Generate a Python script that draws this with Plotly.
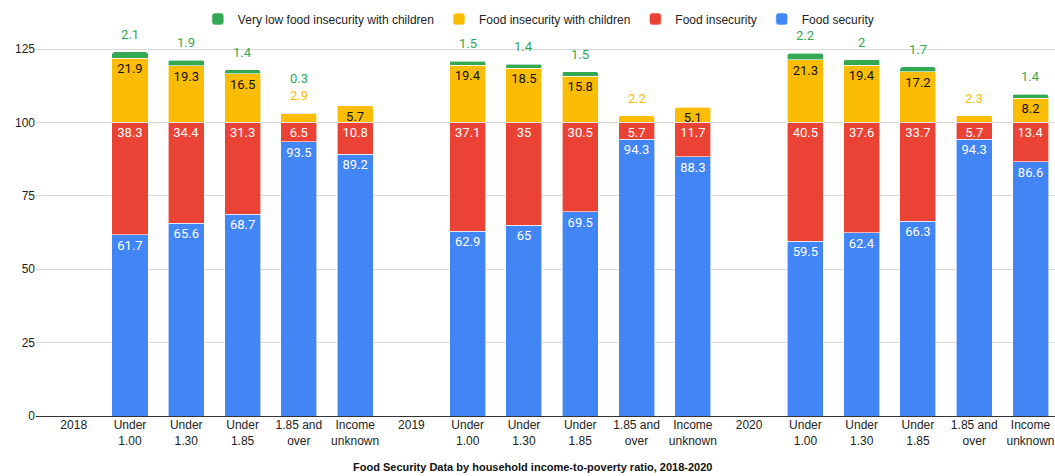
import plotly.graph_objects as go

# Category axis: a year marker followed by the five income-to-poverty groups
tick_labels = [
    "2018", "Under<br>1.00", "Under<br>1.30", "Under<br>1.85", "1.85 and<br>over", "Income<br>unknown",
    "2019", "Under<br>1.00", "Under<br>1.30", "Under<br>1.85", "1.85 and<br>over", "Income<br>unknown",
    "2020", "Under<br>1.00", "Under<br>1.30", "Under<br>1.85", "1.85 and<br>over", "Income<br>unknown",
]

food_security = [None, 61.7, 65.6, 68.7, 93.5, 89.2,
                 None, 62.9, 65, 69.5, 94.3, 88.3,
                 None, 59.5, 62.4, 66.3, 94.3, 86.6]
food_insecurity = [None, 38.3, 34.4, 31.3, 6.5, 10.8,
                   None, 37.1, 35, 30.5, 5.7, 11.7,
                   None, 40.5, 37.6, 33.7, 5.7, 13.4]
insecurity_children = [None, 21.9, 19.3, 16.5, 2.9, 5.7,
                       None, 19.4, 18.5, 15.8, 2.2, 5.1,
                       None, 21.3, 19.4, 17.2, 2.3, 8.2]
very_low_children = [None, 2.1, 1.9, 1.4, 0.3, None,
                     None, 1.5, 1.4, 1.5, None, None,
                     None, 2.2, 2, 1.7, None, 1.4]

BLUE, RED, YELLOW, GREEN = "#4285F4", "#EA4335", "#FBBC04", "#34A853"
AXIS_FONT = "Liberation Sans, Arial, sans-serif"
LABEL_FONT = "Roboto, Arial, sans-serif"
LABEL_SIZE = 13
MIN_INSIDE = 4  # segments shorter than this get their label above the bar

x = list(range(len(tick_labels)))


def fmt(v):
    return "" if v is None else f"{v:g}"


def inside_text(values, limit=0):
    return [fmt(v) if (v is not None and v >= limit) else "" for v in values]


series = [
    ("Food security", food_security, BLUE, "white", inside_text(food_security)),
    ("Food insecurity", food_insecurity, RED, "white", inside_text(food_insecurity)),
    ("Food insecurity with children", insecurity_children, YELLOW, "#111111",
     inside_text(insecurity_children, MIN_INSIDE)),
    ("Very low food insecurity with children", very_low_children, GREEN, "white",
     [""] * len(x)),
]

fig = go.Figure()
for name, vals, color, tcolor, text in series:
    fig.add_trace(go.Bar(
        x=x, y=vals, name=name,
        marker=dict(color=color, line=dict(color="white", width=0.6)),
        text=text, textposition="inside", insidetextanchor="end",
        textangle=0,
        textfont=dict(family=LABEL_FONT, size=LABEL_SIZE, color=tcolor),
        hoverinfo="skip",
    ))

# Labels that sit above each stack (small yellow segments and the green segment)
for i in x:
    if food_security[i] is None:
        continue
    total = sum(v for v in (food_security[i], food_insecurity[i],
                            insecurity_children[i], very_low_children[i]) if v)
    outside = []
    if insecurity_children[i] is not None and insecurity_children[i] < MIN_INSIDE:
        outside.append((insecurity_children[i], YELLOW))
    if very_low_children[i]:
        outside.append((very_low_children[i], GREEN))
    for k, (v, col) in enumerate(outside):
        fig.add_annotation(
            x=i, y=total, xref="x", yref="y", text=fmt(v), showarrow=False,
            yanchor="middle", yshift=17.5 + 17 * k,
            font=dict(family=LABEL_FONT, size=LABEL_SIZE, color=col),
        )

fig.add_annotation(
    x=0.487, y=0, xref="paper", yref="paper", yanchor="middle", yshift=-51,
    text="<b>Food Security Data by household income-to-poverty ratio, 2018-2020</b>",
    showarrow=False, font=dict(family=AXIS_FONT, size=11, color="#111111"),
)

fig.update_layout(
    width=1055, height=476,
    margin=dict(l=36, r=0, t=5, b=60),
    paper_bgcolor="white", plot_bgcolor="white",
    barmode="stack", bargap=0.36, barcornerradius=2,
    uniformtext=dict(minsize=LABEL_SIZE, mode="show"),
    font=dict(family=AXIS_FONT, size=12, color="#222222"),
    legend=dict(
        orientation="h", traceorder="reversed",
        x=0.493, xanchor="center", y=0.966, yanchor="middle",
        font=dict(family=AXIS_FONT, size=12, color="#222222"),
        bgcolor="rgba(0,0,0,0)",
    ),
    xaxis=dict(
        tickmode="array", tickvals=x, ticktext=tick_labels,
        range=[-0.67, 17.435], showgrid=False, zeroline=False,
        showline=False, ticks="",
        tickfont=dict(family=AXIS_FONT, size=12, color="#222222"),
    ),
    yaxis=dict(
        range=[0, 140], tickvals=[0, 25, 50, 75, 100, 125],
        showgrid=True, gridcolor="#d9d9d9", gridwidth=1,
        zeroline=True, zerolinecolor="#333333", zerolinewidth=1,
        showline=False, ticks="",
        tickfont=dict(family=AXIS_FONT, size=12, color="#222222"),
    ),
)

fig.write_html("out.html")
